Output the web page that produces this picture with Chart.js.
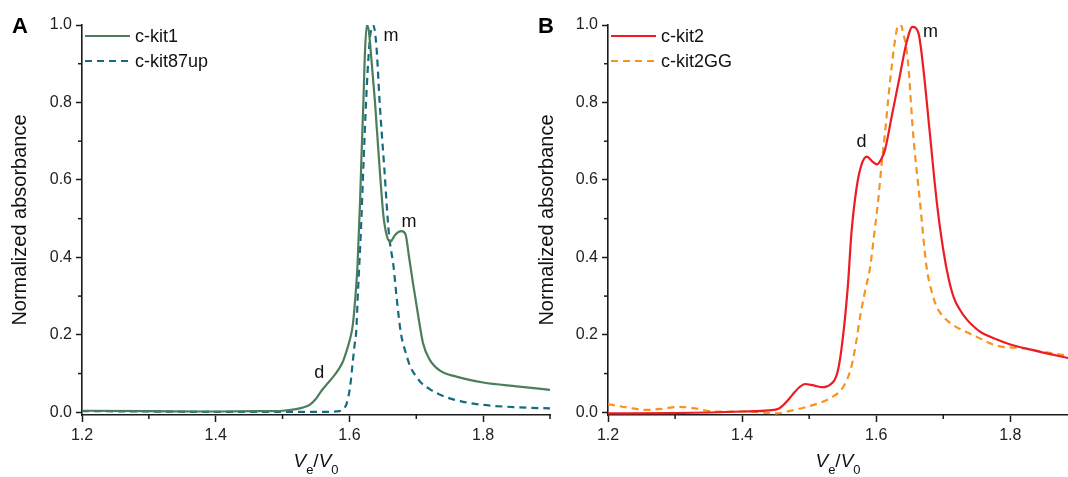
<!DOCTYPE html>
<html>
<head>
<meta charset="utf-8">
<script src="https://cdn.jsdelivr.net/npm/chart.js@4.4.1/dist/chart.umd.min.js"></script>
<style>
    html, body { margin: 0; padding: 0; background: #fff; overflow: hidden; }
    #wrap { position: relative; width: 1068px; height: 477px; }
    canvas { position: absolute; top: 0; }
    #chartA { left: 0; }
    #chartB { left: 534px; }
</style>
</head>
<body>
<div id="wrap">
    <canvas id="chartA" width="560" height="477"></canvas>
    <canvas id="chartB" width="534" height="477"></canvas>
</div>
<script>
// Ticks
var xMajorTicks = [1.2, 1.4, 1.6, 1.8];
var xMinorTicks = [1.3, 1.5, 1.7, 1.9];
var yMajorTicks = [0, 0.2, 0.4, 0.6, 0.8, 1.0];
var yMinorTicks = [0.1, 0.3, 0.5, 0.7, 0.9];

// Pannello A: c-kit1
var kit1X = [1.2, 1.3, 1.4, 1.47, 1.50, 1.52, 1.53, 1.541, 1.55, 1.558, 1.566, 1.575, 1.583, 1.590, 1.596, 1.601, 1.605, 1.609, 1.612, 1.616, 1.618, 1.621, 1.623, 1.626, 1.629, 1.632, 1.638, 1.645, 1.651, 1.656, 1.661, 1.668, 1.674, 1.678, 1.684, 1.689, 1.695, 1.703, 1.710, 1.720, 1.735, 1.76, 1.80, 1.85, 1.90];
var kit1Y = [0.004, 0.003, 0.002, 0.003, 0.004, 0.008, 0.012, 0.020, 0.035, 0.055, 0.072, 0.090, 0.109, 0.130, 0.160, 0.190, 0.225, 0.300, 0.376, 0.548, 0.660, 0.806, 0.920, 1.0, 0.985, 0.930, 0.806, 0.634, 0.505, 0.455, 0.440, 0.457, 0.466, 0.468, 0.459, 0.403, 0.334, 0.248, 0.179, 0.136, 0.108, 0.092, 0.077, 0.067, 0.058];

// Pannello A: c-kit87up
var kit87X = [1.2, 1.3, 1.4, 1.5, 1.56, 1.585, 1.592, 1.596, 1.601, 1.605, 1.608, 1.610, 1.613, 1.617, 1.621, 1.625, 1.629, 1.632, 1.635, 1.638, 1.641, 1.645, 1.652, 1.659, 1.666, 1.671, 1.677, 1.684, 1.691, 1.70, 1.708, 1.72, 1.731, 1.75, 1.77, 1.80, 1.85, 1.90];
var kit87Y = [0.003, 0.002, 0.001, 0.001, 0.001, 0.003, 0.010, 0.023, 0.066, 0.130, 0.178, 0.204, 0.320, 0.462, 0.640, 0.806, 0.930, 0.985, 1.0, 0.985, 0.930, 0.806, 0.634, 0.462, 0.376, 0.290, 0.204, 0.155, 0.118, 0.092, 0.075, 0.060, 0.049, 0.036, 0.027, 0.019, 0.013, 0.010];

// Pannello B: c-kit2
var kit2X = [1.2, 1.3, 1.4, 1.44, 1.455, 1.465, 1.475, 1.485, 1.494, 1.505, 1.518, 1.531, 1.543, 1.551, 1.558, 1.563, 1.571, 1.578, 1.586, 1.594, 1.601, 1.607, 1.613, 1.623, 1.635, 1.645, 1.654, 1.663, 1.670, 1.680, 1.690, 1.700, 1.708, 1.716, 1.725, 1.735, 1.745, 1.755, 1.78, 1.80, 1.84, 1.886];
var kit2Y = [-0.003, -0.002, 0.002, 0.005, 0.010, 0.025, 0.045, 0.064, 0.073, 0.070, 0.065, 0.071, 0.109, 0.204, 0.333, 0.462, 0.583, 0.639, 0.660, 0.648, 0.640, 0.652, 0.677, 0.763, 0.867, 0.953, 0.995, 0.979, 0.892, 0.720, 0.548, 0.419, 0.345, 0.295, 0.264, 0.240, 0.222, 0.208, 0.188, 0.175, 0.158, 0.140];

// Pannello B: c-kit2GG
var kit2GGX = [1.2, 1.23, 1.257, 1.28, 1.307, 1.33, 1.357, 1.407, 1.451, 1.47, 1.496, 1.515, 1.531, 1.551, 1.563, 1.570, 1.576, 1.583, 1.591, 1.597, 1.603, 1.608, 1.613, 1.618, 1.623, 1.628, 1.633, 1.637, 1.640, 1.644, 1.648, 1.655, 1.665, 1.675, 1.683, 1.690, 1.700, 1.715, 1.745, 1.78, 1.82, 1.85, 1.886];
var kit2GGY = [0.021, 0.012, 0.006, 0.009, 0.014, 0.010, 0.002, 0.002, -0.003, 0.003, 0.014, 0.024, 0.036, 0.066, 0.118, 0.180, 0.247, 0.310, 0.376, 0.460, 0.548, 0.640, 0.720, 0.810, 0.892, 0.960, 1.0, 1.0, 0.980, 0.950, 0.892, 0.720, 0.548, 0.376, 0.310, 0.273, 0.247, 0.225, 0.199, 0.172, 0.165, 0.156, 0.146];

// Etichette dei picchi
var notesA = [{ x: 1.662, y: 0.972, text: 'm' }, { x: 1.689, y: 0.492, text: 'm' }, { x: 1.555, y: 0.101, text: 'd' }];
var notesB = [{ x: 1.681, y: 0.983, text: 'm' }, { x: 1.578, y: 0.699, text: 'd' }];

var fam = '"Liberation Sans", Arial, sans-serif';
var axisColor = '#1a1a1a';
Chart.defaults.font.family = fam;

function points(xs, ys) {
    return xs.map(function (x, i) { return { x: x, y: ys[i] }; });
}

function drawXTitle(ctx, cx, baseY) {
    var parts = [
        { t: 'V', f: 'italic 19px ' + fam, dy: 0 },
        { t: 'e', f: '13px ' + fam, dy: 7 },
        { t: '/', f: '19px ' + fam, dy: 0 },
        { t: 'V', f: 'italic 19px ' + fam, dy: 0 },
        { t: '0', f: '13px ' + fam, dy: 7 }
    ];
    var total = 0;
    parts.forEach(function (p) { ctx.font = p.f; p.w = ctx.measureText(p.t).width; total += p.w; });
    var x = cx - total / 2;
    ctx.textAlign = 'left';
    ctx.textBaseline = 'alphabetic';
    parts.forEach(function (p) { ctx.font = p.f; ctx.fillText(p.t, x, baseY + p.dy); x += p.w; });
}

// Tacche minori, legenda, lettere, etichette
var panelDecor = {
    id: 'panelDecor',
    afterDraw: function (chart, args, opts) {
        var ctx = chart.ctx, xs = chart.scales.x, ys = chart.scales.y, area = chart.chartArea;
        ctx.save();
        ctx.strokeStyle = axisColor;
        ctx.lineWidth = 1.5;
        xMinorTicks.forEach(function (v) {
            var px = xs.getPixelForValue(v);
            if (px > area.right + 1) return;
            ctx.beginPath(); ctx.moveTo(px, area.bottom); ctx.lineTo(px, area.bottom + 4); ctx.stroke();
        });
        yMinorTicks.forEach(function (v) {
            var py = ys.getPixelForValue(v);
            ctx.beginPath(); ctx.moveTo(area.left - 4, py); ctx.lineTo(area.left, py); ctx.stroke();
        });

        ctx.fillStyle = '#000';
        ctx.font = 'bold 22px ' + fam;
        ctx.textAlign = 'left';
        ctx.textBaseline = 'alphabetic';
        ctx.fillText(opts.letter, opts.letterX, 33);

        chart.data.datasets.forEach(function (ds, i) {
            var y = 36 + i * 25;
            ctx.strokeStyle = ds.borderColor;
            ctx.lineWidth = ds.borderWidth;
            ctx.setLineDash(ds.borderDash || []);
            ctx.beginPath(); ctx.moveTo(area.left + 3, y); ctx.lineTo(area.left + 48, y); ctx.stroke();
            ctx.setLineDash([]);
            ctx.fillStyle = '#111';
            ctx.font = '18px ' + fam;
            ctx.textBaseline = 'middle';
            ctx.fillText(ds.label, area.left + 53, y + 1);
        });

        ctx.fillStyle = '#111';
        ctx.font = '18px ' + fam;
        ctx.textAlign = 'center';
        ctx.textBaseline = 'middle';
        opts.notes.forEach(function (n) {
            ctx.fillText(n.text, xs.getPixelForValue(n.x), ys.getPixelForValue(n.y));
        });

        ctx.fillStyle = '#111';
        drawXTitle(ctx, (area.left + area.right) / 2, 467);
        ctx.restore();
    }
};

function makePanel(id, datasets, opt) {
    var ctx = document.getElementById(id).getContext('2d');
    return new Chart(ctx, {
        type: 'line',
        data: { datasets: datasets },
        plugins: [panelDecor],
        options: {
            responsive: false,
            animation: false,
            devicePixelRatio: 1,
            layout: { padding: { top: 25, right: opt.padRight, left: 0, bottom: 0 } },
            elements: { point: { radius: 0 } },
            plugins: {
                legend: { display: false },
                tooltip: { enabled: false },
                panelDecor: { letter: opt.letter, letterX: opt.letterX, notes: opt.notes }
            },
            scales: {
                x: {
                    type: 'linear',
                    min: 1.2,
                    max: opt.xMax,
                    afterBuildTicks: function (s) { s.ticks = xMajorTicks.map(function (v) { return { value: v }; }); },
                    afterFit: function (s) { s.height = 62; },
                    ticks: {
                        color: '#222',
                        font: { size: 16 },
                        padding: 4,
                        maxRotation: 0,
                        autoSkip: false,
                        callback: function (v) { return v.toFixed(1); }
                    },
                    grid: { drawOnChartArea: false, drawTicks: true, tickLength: 7, tickWidth: 1.5, tickColor: axisColor },
                    border: { display: true, color: axisColor, width: 1.6 }
                },
                y: {
                    min: -0.007,
                    max: 1.0,
                    afterBuildTicks: function (s) { s.ticks = yMajorTicks.map(function (v) { return { value: v }; }); },
                    afterFit: function (s) { s.width = opt.yWidth; },
                    ticks: {
                        color: '#222',
                        font: { size: 16 },
                        padding: 4,
                        callback: function (v) { return v.toFixed(1); }
                    },
                    title: {
                        display: true,
                        text: 'Normalized absorbance',
                        color: '#111',
                        font: { size: 20 },
                        padding: { top: opt.titlePad, bottom: 0 }
                    },
                    grid: { drawOnChartArea: false, drawTicks: true, tickLength: 6, tickWidth: 1.5, tickColor: axisColor },
                    border: { display: true, color: axisColor, width: 1.6 }
                }
            }
        }
    });
}

// Grafico A
window.chartA = makePanel('chartA', [{
    label: 'c-kit1',
    data: points(kit1X, kit1Y),
    borderColor: '#4e7d5b',
    borderWidth: 2.2,
    cubicInterpolationMode: 'monotone'
}, {
    label: 'c-kit87up',
    data: points(kit87X, kit87Y),
    borderColor: '#156c80',
    borderWidth: 2.2,
    borderDash: [7, 5],
    cubicInterpolationMode: 'monotone'
}], { letter: 'A', letterX: 12, notes: notesA, xMax: 1.9, padRight: 10, yWidth: 82, titlePad: 8 });

// Grafico B
window.chartB = makePanel('chartB', [{
    label: 'c-kit2',
    data: points(kit2X, kit2Y),
    borderColor: '#ed1c24',
    borderWidth: 2.2,
    cubicInterpolationMode: 'monotone'
}, {
    label: 'c-kit2GG',
    data: points(kit2GGX, kit2GGY),
    borderColor: '#f7941d',
    borderWidth: 2.2,
    borderDash: [7, 5],
    cubicInterpolationMode: 'monotone'
}], { letter: 'B', letterX: 4, notes: notesB, xMax: 1.886, padRight: 0, yWidth: 74, titlePad: 1 });
</script>
</body>
</html>
